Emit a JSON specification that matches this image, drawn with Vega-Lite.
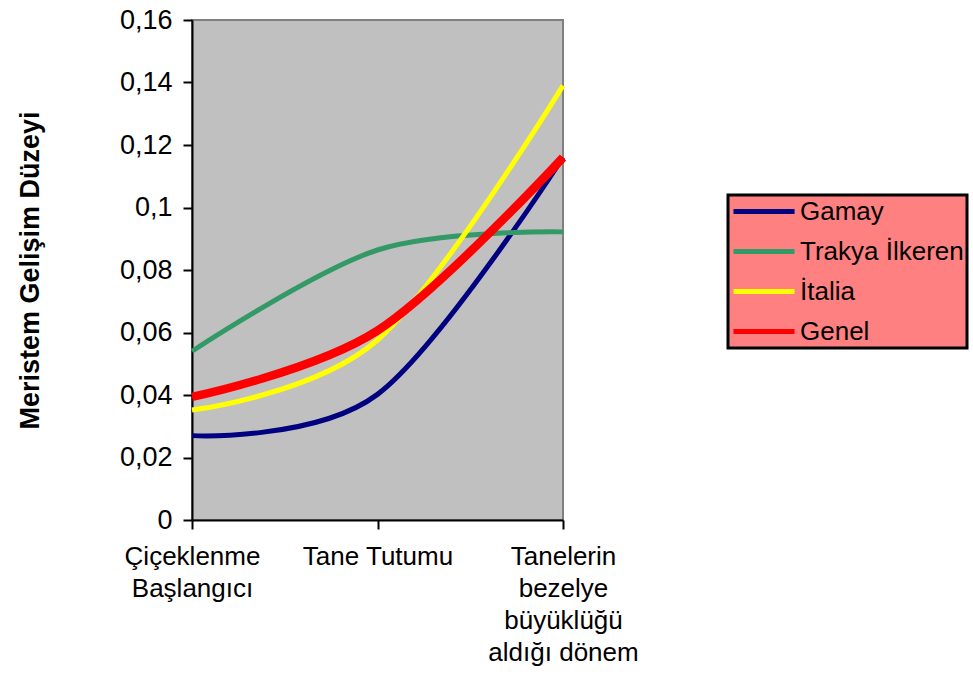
{
  "$schema": "https://vega.github.io/schema/vega-lite/v6.json",
  "width": 371,
  "height": 500,
  "autosize": {"type": "none"},
  "padding": {"left": 192, "top": 20, "right": 410, "bottom": 155},
  "background": "white",
  "data": {
    "values": [
      {"stage": "Çiçeklenme|Başlangıcı", "series": "Gamay", "value": 0.027},
      {"stage": "Tane Tutumu", "series": "Gamay", "value": 0.0402},
      {"stage": "Tanelerin|bezelye|büyüklüğü|aldığı dönem", "series": "Gamay", "value": 0.116},
      {"stage": "Çiçeklenme|Başlangıcı", "series": "Trakya İlkeren", "value": 0.054},
      {"stage": "Tane Tutumu", "series": "Trakya İlkeren", "value": 0.0864},
      {"stage": "Tanelerin|bezelye|büyüklüğü|aldığı dönem", "series": "Trakya İlkeren", "value": 0.0922},
      {"stage": "Çiçeklenme|Başlangıcı", "series": "İtalia", "value": 0.0352},
      {"stage": "Tane Tutumu", "series": "İtalia", "value": 0.0576},
      {"stage": "Tanelerin|bezelye|büyüklüğü|aldığı dönem", "series": "İtalia", "value": 0.139},
      {"stage": "Çiçeklenme|Başlangıcı", "series": "Genel", "value": 0.0394},
      {"stage": "Tane Tutumu", "series": "Genel", "value": 0.0606},
      {"stage": "Tanelerin|bezelye|büyüklüğü|aldığı dönem", "series": "Genel", "value": 0.116}
    ]
  },
  "encoding": {
    "x": {
      "field": "stage",
      "type": "ordinal",
      "sort": null,
      "scale": {"type": "point", "padding": 0},
      "axis": {
        "title": null,
        "labelAngle": 0,
        "labelExpr": "split(datum.value, '|')",
        "labelLineHeight": 32,
        "labelBaseline": "top",
        "labelPadding": 14,
        "labelFlush": false,
        "labelOverlap": false,
        "labelBound": false,
        "grid": false
      }
    },
    "y": {
      "field": "value",
      "type": "quantitative",
      "scale": {"domain": [0, 0.16], "nice": false, "zero": true},
      "axis": {
        "title": "Meristem Gelişim Düzeyi",
        "values": [0, 0.02, 0.04, 0.06, 0.08, 0.1, 0.12, 0.14, 0.16],
        "labelExpr": "replace(format(datum.value, '~g'), '.', ',')",
        "labelPadding": 11,
        "labelFontSize": 27,
        "grid": false,
        "titleX": -162,
        "titleY": 250,
        "titleAngle": 270,
        "titleAlign": "center",
        "titleBaseline": "middle",
        "titleFontWeight": "bold",
        "titleFontSize": 27
      }
    },
    "color": {
      "field": "series",
      "type": "nominal",
      "scale": {
        "domain": ["Gamay", "Trakya İlkeren", "İtalia", "Genel"],
        "range": ["#000080", "#339966", "#FFFF00", "#FF0000"]
      },
      "legend": {
        "title": null,
        "orient": "none",
        "legendX": 536,
        "legendY": 175,
        "fillColor": "#FF8080",
        "strokeColor": "#000000",
        "padding": 3,
        "rowPadding": 13,
        "symbolType": "M-1,0H4.55",
        "symbolSize": 484,
        "symbolStrokeWidth": 5,
        "labelOffset": 42,
        "labelFontSize": 26,
        "labelFont": "Liberation Sans",
        "labelColor": "#000000",
        "labelLimit": 400
      }
    }
  },
  "layer": [
    {
      "transform": [{"filter": "datum.series !== 'Genel'"}],
      "mark": {"type": "line", "interpolate": "cardinal", "strokeWidth": 5, "strokeCap": "butt", "strokeJoin": "round"}
    },
    {
      "transform": [{"filter": "datum.series === 'Genel'"}],
      "mark": {"type": "line", "interpolate": "cardinal", "strokeWidth": 8.5, "strokeCap": "butt", "strokeJoin": "round"}
    }
  ],
  "config": {
    "view": {"fill": "#C0C0C0", "stroke": "#808080", "strokeWidth": 2},
    "font": "Liberation Sans",
    "axis": {
      "domainColor": "#000000",
      "domainWidth": 2,
      "tickColor": "#000000",
      "tickWidth": 2,
      "tickSize": 9,
      "labelFont": "Liberation Sans",
      "labelFontSize": 26,
      "labelColor": "#000000",
      "titleFont": "Liberation Sans",
      "titleColor": "#000000"
    },
    "legend": {"strokeWidth": 3}
  }
}
